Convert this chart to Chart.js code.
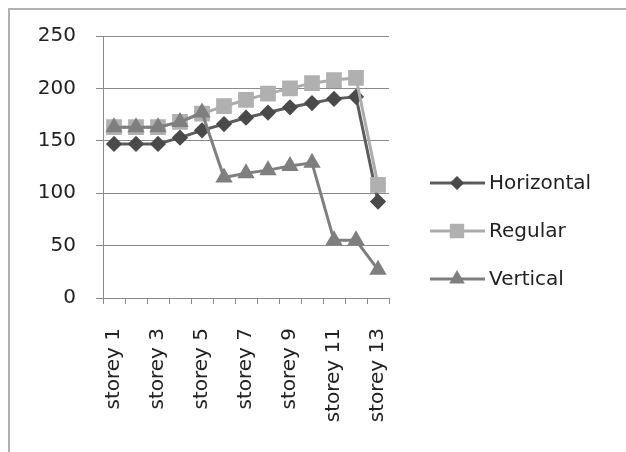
<!DOCTYPE html>
<html>
<head>
<meta charset="utf-8">
<script src="https://cdn.jsdelivr.net/npm/chart.js@4/dist/chart.umd.min.js"></script>
<style>
  body { margin: 0; background: #fff; overflow: hidden; }
  #wrap { position: relative; width: 626px; height: 452px; overflow: hidden; }
  #frame { position: absolute; left: 8px; top: 8px; width: 640px; height: 470px; border-top: 2px solid #b0b0b0; border-left: 2px solid #b0b0b0; }
  #grafico { position: absolute; left: 0; top: 0; }
</style>
</head>
<body>
<div id="wrap">
  <div id="frame"></div>
  <canvas id="grafico" width="626" height="452"></canvas>
</div>
<script>
// dados
var andares = ["storey 1", "storey 2", "storey 3", "storey 4", "storey 5", "storey 6", "storey 7",
  "storey 8", "storey 9", "storey 10", "storey 11", "storey 12", "storey 13"];
var horizontal = [147, 147, 147, 153, 160, 166, 172, 177, 182, 186, 190, 192, 92];
var regular = [163, 163, 163, 168, 176, 183, 189, 195, 200, 205, 208, 210, 108];
var vertical = [163, 163, 163, 168, 177, 115, 119, 122, 126, 129, 55, 55, 27];
var ticksY = [0, 50, 100, 150, 200, 250];

var fonte = "'DejaVu Sans'";

// legenda desenhada a mao: linha + marcador como no excel
var legendaLinha = {
  id: "legendaLinha",
  afterDraw: function (chart) {
    var ctx = chart.ctx;
    var ys = [183, 231, 279];
    chart.data.datasets.forEach(function (ds, i) {
      var y = ys[i];
      ctx.save();
      ctx.strokeStyle = ds.borderColor;
      ctx.lineWidth = 3;
      ctx.beginPath();
      ctx.moveTo(430, y);
      ctx.lineTo(485, y);
      ctx.stroke();
      ctx.fillStyle = ds.pointBackgroundColor;
      ctx.strokeStyle = ds.pointBackgroundColor;
      Chart.helpers.drawPoint(ctx, {
        pointStyle: ds.pointStyle,
        radius: ds.pointRadius - 1,
        borderWidth: 1,
        rotation: 0
      }, 457, y);
      ctx.fillStyle = "#222";
      ctx.font = "20px " + fonte;
      ctx.textBaseline = "middle";
      ctx.fillText(ds.label, 489, y + 1);
      ctx.restore();
    });
  }
};

var dados = {
  labels: andares,
  datasets: [
    {
      label: "Horizontal",
      data: horizontal,
      borderColor: "#5c5c5c",
      backgroundColor: "#4a4a4a",
      pointBackgroundColor: "#4a4a4a",
      pointBorderColor: "#4a4a4a",
      pointStyle: "rectRot",
      pointRadius: 6,
      borderWidth: 3,
      tension: 0,
      order: 3
    },
    {
      label: "Regular",
      data: regular,
      borderColor: "#acacac",
      backgroundColor: "#b0b0b0",
      pointBackgroundColor: "#b0b0b0",
      pointBorderColor: "#b0b0b0",
      pointStyle: "rect",
      pointRadius: 9,
      borderWidth: 3,
      tension: 0,
      order: 2
    },
    {
      label: "Vertical",
      data: vertical,
      borderColor: "#7f7f7f",
      backgroundColor: "#7f7f7f",
      pointBackgroundColor: "#7f7f7f",
      pointBorderColor: "#7f7f7f",
      pointStyle: "triangle",
      pointRadius: 7,
      borderWidth: 3,
      tension: 0,
      order: 1
    }
  ]
};

var config = {
  type: "line",
  data: dados,
  plugins: [legendaLinha],
  options: {
    responsive: false,
    animation: false,
    layout: { padding: { left: 0, right: 237, top: 36, bottom: 0 } },
    plugins: { legend: { display: false }, tooltip: { enabled: false } },
    scales: {
      x: {
        offset: true,
        afterFit: function (s) { s.height = 452 - 298; },
        grid: { drawOnChartArea: false, drawTicks: true, tickLength: 6, color: "#8a8a8a", offset: true },
        border: { color: "#8a8a8a", width: 1 },
        ticks: {
          color: "#222",
          font: { family: fonte, size: 20 },
          maxRotation: 90,
          minRotation: 90,
          autoSkip: false,
          padding: 24,
          callback: function (v, i) { return i % 2 === 0 ? andares[i] : ""; }
        }
      },
      y: {
        min: 0,
        max: 250,
        afterFit: function (s) { s.width = 103; },
        afterBuildTicks: function (s) { s.ticks = ticksY.map(function (v) { return { value: v }; }); },
        grid: { color: "#8a8a8a", tickLength: 7 },
        border: { color: "#8a8a8a", width: 1 },
        ticks: {
          color: "#222",
          font: { family: fonte, size: 20 },
          padding: 20
        }
      }
    }
  }
};

var myChart = new Chart(document.getElementById("grafico"), config);
</script>
</body>
</html>
